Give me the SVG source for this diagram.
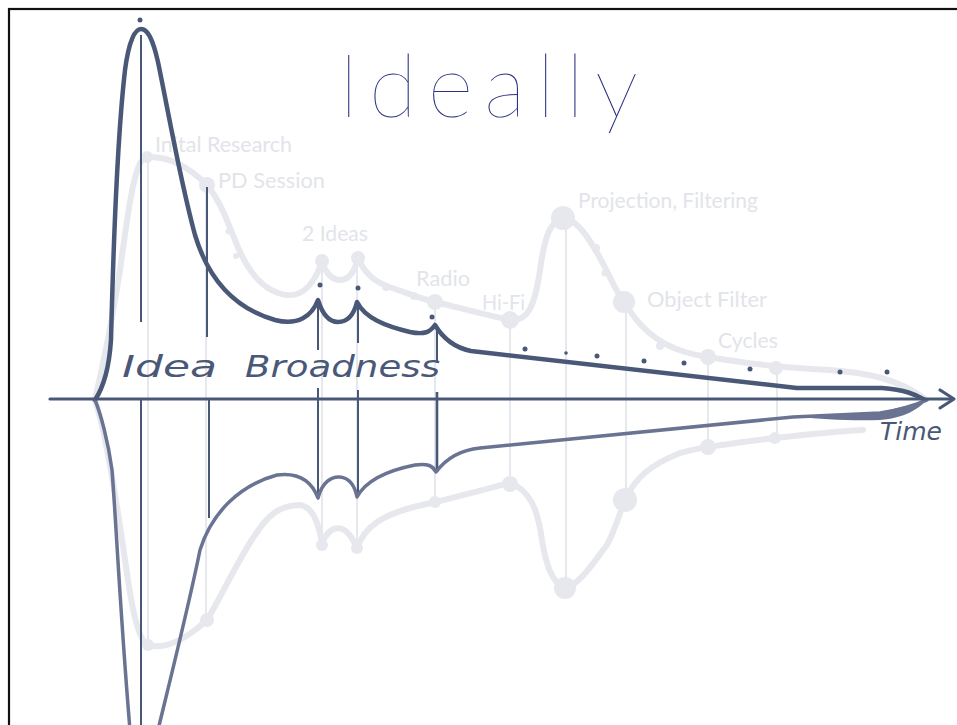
<svg xmlns="http://www.w3.org/2000/svg" width="957" height="725" viewBox="0 0 957 725">
<style>
.frame{fill:none;stroke:#111;stroke-width:2.2}
.lc{fill:none;stroke:#e6e8ee;stroke-width:6;stroke-linecap:round;stroke-linejoin:round}
.lv{stroke:#e6e8ee;stroke-width:2}
.ln{fill:#e6e8ee}
.lbl{font-family:Lato,"Open Sans","Liberation Sans",sans-serif;font-size:22px;fill:#e2e4ea}
.dc{fill:none;stroke:#4a5878;stroke-width:4.5;stroke-linecap:round;stroke-linejoin:round}
.dl{fill:none;stroke:#6a7492;stroke-width:3.5;stroke-linecap:round;stroke-linejoin:round}
.dv{stroke:#4a5878;stroke-width:2}
.dd{fill:#4a5878}
.axis{fill:none;stroke:#4a5878;stroke-width:3.2;stroke-linecap:round;stroke-linejoin:round}
.hand{font-family:"DejaVu Sans","Liberation Sans",sans-serif;fill:#4a5878}
.title{font-family:Lato,Roboto,Inter,"Liberation Sans",sans-serif;font-weight:200;font-size:88px;fill:#2b3080}
</style>
<rect class="frame" x="9" y="9" width="970" height="740"/>

<g id="light-curves">
<line class="lv" x1="148" y1="157" x2="148" y2="645"/>
<line class="lv" x1="206" y1="185" x2="206" y2="620"/>
<line class="lv" x1="322" y1="261" x2="322" y2="545"/>
<line class="lv" x1="357" y1="258" x2="357" y2="548"/>
<line class="lv" x1="435" y1="302" x2="435" y2="502"/>
<line class="lv" x1="510" y1="320" x2="510" y2="483"/>
<line class="lv" x1="566" y1="218" x2="566" y2="588"/>
<line class="lv" x1="626" y1="302" x2="626" y2="500"/>
<line class="lv" x1="708" y1="357" x2="708" y2="447"/>
<line class="lv" x1="777" y1="368" x2="777" y2="438"/>
<path class="lc" d="M95 399 C102 370,112 320,120 270 C127 220,132 180,140 163 C143 158,146 157,150 157 C170 157,190 168,207 185 C218 198,225 215,233 235 C243 262,256 285,278 293 C298 300,312 290,322 262 C326 274,333 280,340 280 C348 280,354 274,358 258 C365 274,375 283,395 289 C415 296,425 300,435 302 C460 308,490 316,510 320 C528 322,535 305,540 270 C545 235,550 222,563 218 C578 220,590 240,600 258 C610 276,615 290,624 302 C638 325,655 343,685 352 C695 355,700 356,708 357 C740 362,770 367,830 370 C870 373,900 380,925 399"/>
<path class="lc" d="M95 400 C105 430,115 490,125 560 C132 610,138 640,148 645 C165 650,185 640,207 620 C222 595,238 560,255 535 C268 515,280 505,300 505 C312 507,318 520,322 543 C330 525,345 520,357 548 C365 525,385 515,410 508 C422 505,430 503,435 502 C460 496,490 488,510 483 C530 490,538 510,542 540 C546 565,552 583,565 588 C580 585,595 560,607 545 C615 530,620 512,625 500 C635 478,650 465,680 453 C695 449,700 448,708 447 C730 444,755 440,775 438 C810 434,840 431,863 430"/>
<circle class="ln" cx="147" cy="157" r="6"/>
<circle class="ln" cx="207" cy="185" r="8"/>
<circle class="ln" cx="322" cy="261" r="7"/>
<circle class="ln" cx="358" cy="258" r="7"/>
<circle class="ln" cx="435" cy="302" r="8"/>
<circle class="ln" cx="510" cy="320" r="9"/>
<circle class="ln" cx="563" cy="218" r="12"/>
<circle class="ln" cx="624" cy="302" r="11"/>
<circle class="ln" cx="708" cy="357" r="8"/>
<circle class="ln" cx="776" cy="368" r="7"/>
<circle class="ln" cx="229" cy="231" r="3.5"/>
<circle class="ln" cx="236" cy="256" r="3"/>
<circle class="ln" cx="386" cy="287" r="4"/>
<circle class="ln" cx="414" cy="296" r="4"/>
<circle class="ln" cx="596" cy="248" r="4"/>
<circle class="ln" cx="605" cy="273" r="3.5"/>
<circle class="ln" cx="660" cy="346" r="4"/>
<circle class="ln" cx="148" cy="645" r="6"/>
<circle class="ln" cx="207" cy="620" r="7"/>
<circle class="ln" cx="322" cy="545" r="6"/>
<circle class="ln" cx="357" cy="548" r="6"/>
<circle class="ln" cx="435" cy="502" r="6"/>
<circle class="ln" cx="510" cy="484" r="8"/>
<circle class="ln" cx="565" cy="588" r="11"/>
<circle class="ln" cx="625" cy="500" r="12"/>
<circle class="ln" cx="708" cy="447" r="8"/>
<circle class="ln" cx="775" cy="438" r="6"/>
</g>

<g id="labels">
<text class="lbl" x="155" y="152" textLength="137" lengthAdjust="spacingAndGlyphs">Inital Research</text>
<text class="lbl" x="218" y="188" textLength="107" lengthAdjust="spacingAndGlyphs">PD Session</text>
<text class="lbl" x="302" y="241" textLength="66" lengthAdjust="spacingAndGlyphs">2 Ideas</text>
<text class="lbl" x="416" y="286" textLength="54" lengthAdjust="spacingAndGlyphs">Radio</text>
<text class="lbl" x="482" y="310" textLength="43" lengthAdjust="spacingAndGlyphs">Hi-Fi</text>
<text class="lbl" x="578" y="208" textLength="180" lengthAdjust="spacingAndGlyphs">Projection, Filtering</text>
<text class="lbl" x="647" y="307" textLength="120" lengthAdjust="spacingAndGlyphs">Object Filter</text>
<text class="lbl" x="718" y="348" textLength="60" lengthAdjust="spacingAndGlyphs">Cycles</text>
</g>

<g id="dark-curves">
<line class="dv" x1="141" y1="35" x2="141" y2="322"/>
<line class="dv" x1="141" y1="400" x2="141" y2="725"/>
<line class="dv" x1="207" y1="187" x2="207" y2="337"/>
<line class="dv" x1="209" y1="400" x2="209" y2="518"/>
<line class="dv" x1="318" y1="300" x2="318" y2="350"/>
<line class="dv" x1="318" y1="388" x2="318" y2="498"/>
<line class="dv" x1="358" y1="303" x2="358" y2="343"/>
<line class="dv" x1="358" y1="390" x2="358" y2="497"/>
<line class="dv" x1="437" y1="327" x2="437" y2="363"/>
<line class="dv" x1="437" y1="392" x2="437" y2="472" style="stroke-width:2.6"/>
<path class="dc" d="M95 400 C103 388,109 370,111 340 C113 260,117 140,125 70 C129 40,135 29,141 29 C148 29,153 40,158 62 C168 110,180 180,195 235 C210 285,240 310,275 320 C298 326,312 316,318 300 C323 316,330 322,338 322 C348 322,354 314,357 302 C365 318,385 326,410 332 C425 335,430 332,435 325 C444 340,456 348,471 351 L797 388 L882 388 C905 390,915 394,925 400"/>
<path class="dl" d="M95 400 C100 412,108 440,112 470 C116 520,120 610,130 730"/>
<path class="dl" d="M158 730 C175 660,190 600,200 550 C212 512,240 485,277 475 C300 472,312 482,318 498 C322 482,332 476,340 477 C350 478,355 487,357 497 C366 480,390 470,415 465 C428 463,433 466,436 472 C445 460,460 450,480 448 L793 417 L880 413 C900 410,915 405,927 400"/>
<path d="M800 417 L880 412 C900 408,915 403,927 400 C918 409,905 418,880 420 C850 421,820 419,800 417 Z" fill="#6a7492"/>
<circle class="dd" cx="140" cy="20" r="2.5"/>
<circle class="dd" cx="320" cy="285" r="2.5"/>
<circle class="dd" cx="358" cy="288" r="2.5"/>
<circle class="dd" cx="432" cy="317" r="2.5"/>
<circle class="dd" cx="525" cy="349" r="2.5"/>
<circle class="dd" cx="566" cy="353" r="1.8"/>
<circle class="dd" cx="597" cy="356" r="2.5"/>
<circle class="dd" cx="644" cy="361" r="2.5"/>
<circle class="dd" cx="684" cy="363" r="2.5"/>
<circle class="dd" cx="750" cy="369" r="2.5"/>
<circle class="dd" cx="840" cy="372" r="2.5"/>
<circle class="dd" cx="887" cy="372" r="2.5"/>
</g>

<g id="axis">
<line class="axis" x1="50" y1="399" x2="952" y2="399"/>
<polyline class="axis" points="940,390 954,399 940,408"/>
</g>

<g id="texts">
<text class="title" x="338" y="117" textLength="300" lengthAdjust="spacing">Ideally</text>
<text class="hand" x="122" y="377" font-size="30" font-style="oblique" textLength="95" lengthAdjust="spacingAndGlyphs">Idea</text>
<text class="hand" x="245" y="377" font-size="30" font-style="oblique" textLength="195" lengthAdjust="spacingAndGlyphs">Broadness</text>
<text class="hand" x="880" y="440" font-size="24" font-style="oblique" textLength="62" lengthAdjust="spacingAndGlyphs">Time</text>
</g>
</svg>
